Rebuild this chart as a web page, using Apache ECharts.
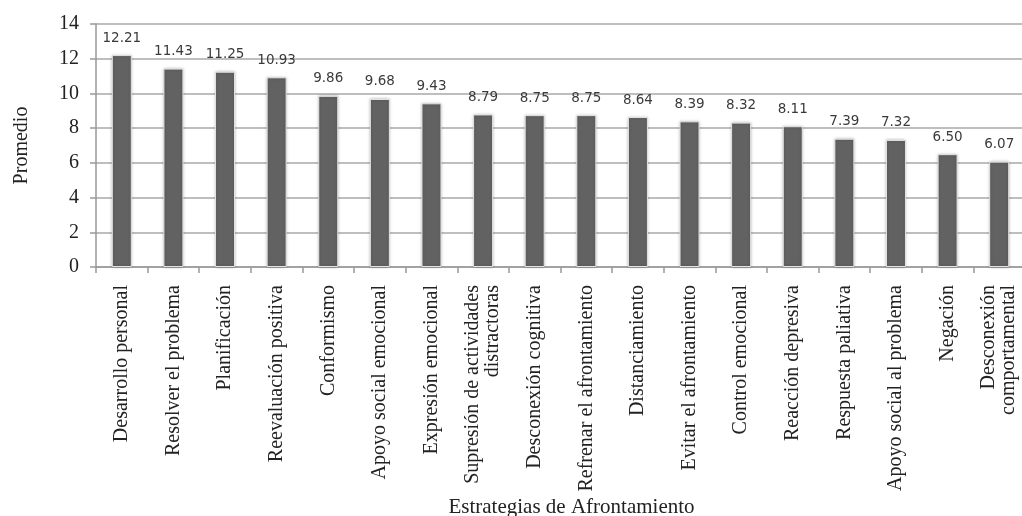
<!DOCTYPE html>
<html>
<head>
<meta charset="utf-8">
<script src="https://cdn.jsdelivr.net/npm/echarts@6/dist/echarts.min.js"></script>
<style>
  html, body { margin: 0; padding: 0; background: #fff; }
  #chart { width: 1022px; height: 516px; }
</style>
</head>
<body>
<div id="chart"></div>
<script>
const categories = [
  'Desarrollo personal', 'Resolver el problema', 'Planificación', 'Reevaluación positiva',
  'Conformismo', 'Apoyo social emocional', 'Expresión emocional',
  'Supresión de actividades\ndistractoras', 'Desconexión cognitiva', 'Refrenar el afrontamiento',
  'Distanciamiento', 'Evitar el afrontamiento', 'Control emocional', 'Reacción depresiva',
  'Respuesta paliativa', 'Apoyo social al problema', 'Negación', 'Desconexión\ncomportamental'
];
const promedios = [12.21, 11.43, 11.25, 10.93, 9.86, 9.68, 9.43, 8.79, 8.75, 8.75, 8.64, 8.39, 8.32, 8.11, 7.39, 7.32, 6.50, 6.07];
const yTicks = { min: 0, max: 14, interval: 2 };

const serif = '"Liberation Serif", "Times New Roman", serif';
const chart = echarts.init(document.getElementById('chart'));

chart.setOption({
  animation: false,
  grid: { left: 96, top: 24, width: 929, bottom: 249, containLabel: false, outerBoundsMode: 'none' },
  xAxis: {
    type: 'category',
    data: categories,
    name: 'Estrategias de Afrontamiento',
    nameLocation: 'middle',
    nameGap: 230,
    nameTextStyle: { fontFamily: serif, fontSize: 21, color: '#222', verticalAlign: 'top', padding: [0, 0, 0, 22] },
    axisLine: { lineStyle: { color: '#999', width: 1.5 } },
    axisTick: { show: true, length: 6, lineStyle: { color: '#999', width: 1.5 } },
    axisLabel: {
      rotate: 90,
      interval: 0,
      margin: 18,
      fontFamily: serif,
      fontSize: 20,
      color: '#222',
      lineHeight: 20
    }
  },
  yAxis: {
    type: 'value',
    min: yTicks.min,
    max: yTicks.max,
    interval: yTicks.interval,
    name: 'Promedio',
    nameLocation: 'middle',
    nameGap: 64,
    nameTextStyle: { fontFamily: serif, fontSize: 20, color: '#222' },
    axisLine: { show: true, lineStyle: { color: '#999', width: 1.5 } },
    axisTick: { show: true, length: 6, lineStyle: { color: '#999', width: 1.5 } },
    axisLabel: { margin: 17, fontFamily: serif, fontSize: 20, color: '#222' },
    splitLine: { lineStyle: { color: '#a8a8a8', width: 1.5 } }
  },
  series: [{
    type: 'bar',
    data: promedios,
    barWidth: 20,
    itemStyle: {
      color: '#626262',
      borderColor: '#e4e4e4',
      borderWidth: 1,
      shadowBlur: 3,
      shadowColor: 'rgba(0,0,0,0.25)'
    },
    label: {
      show: true,
      position: 'top',
      distance: 10,
      fontFamily: '"DejaVu Sans", Verdana, sans-serif',
      fontSize: 13.5,
      color: '#3a3a3a',
      formatter: p => p.value.toFixed(2)
    }
  }]
});
</script>
</body>
</html>
